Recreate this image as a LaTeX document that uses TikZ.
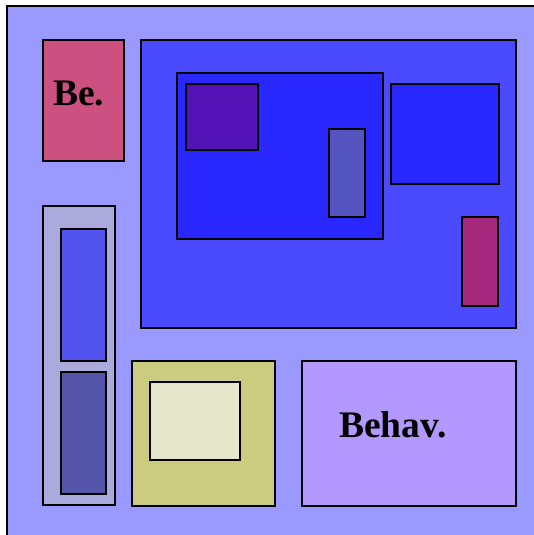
\documentclass[tikz,border=0pt]{standalone}
\usepackage{fontspec}
\setmainfont{Liberation Serif}
\usepackage{tikz}
\usetikzlibrary{positioning}
\definecolor{ground}{HTML}{9999FF}
\definecolor{rosebox}{HTML}{CC5080}
\definecolor{mainblue}{HTML}{4A4AFF}
\definecolor{deepblue}{HTML}{2828FF}
\definecolor{violet}{HTML}{5212B5}
\definecolor{slate}{HTML}{5454C0}
\definecolor{plum}{HTML}{A4287C}
\definecolor{paleblue}{HTML}{AAAADD}
\definecolor{midblue}{HTML}{5252EE}
\definecolor{dullblue}{HTML}{5555AA}
\definecolor{olive}{HTML}{CCCC80}
\definecolor{cream}{HTML}{E6E6CC}
\definecolor{lilac}{HTML}{B399FF}

\begin{document}
\begin{tikzpicture}[
    x=1pt, y=-1pt,
    box/.style={rectangle, draw=black, line width=2pt, inner sep=0pt},
    tag/.style={font=\fontsize{37.5}{40}\selectfont\bfseries, inner sep=0pt,
                anchor=base west}
]
\clip (0,0) rectangle (534,535);

\node[box, fill=ground, minimum width=560, minimum height=560] (frame) at (287,286) {};

% left column
\node[box, fill=rosebox, minimum width=81, minimum height=121] (be) at (83.5,100.5) {};
\node[tag] (betext) at (53,105) {Be.};

\node[box, fill=paleblue, minimum width=72, minimum height=299] (stack) at (79,355.5) {};
\node[box, fill=midblue, minimum width=45, minimum height=132] (stacktop) at (83.5,294.5) {};
\node[box, fill=dullblue, minimum width=45, minimum height=122] (stackbot) at (83.5,433) {};

% big block
\node[box, fill=mainblue, minimum width=375, minimum height=287] (core) at (328.5,184) {};
\node[box, fill=deepblue, minimum width=206, minimum height=166] (inner) at (279.5,155.5) {};
\node[box, fill=violet, minimum width=72, minimum height=66] (corner) at (221.5,117) {};
\node[box, fill=slate, minimum width=36, minimum height=88] (slab) at (346.5,172.5) {};
\node[box, fill=deepblue, minimum width=108, minimum height=100] (side) at (444.5,134) {};
\node[box, fill=plum, minimum width=36, minimum height=89] (pin) at (480,261) {};

% bottom row
\node[box, fill=olive, minimum width=143, minimum height=145] (base) at (203.5,433) {};
\node[box, fill=cream, minimum width=90, minimum height=78] (pad) at (195,421) {};
\node[box, fill=lilac, minimum width=214, minimum height=145] (behav) at (409,433) {};
\node[tag] (behavtext) at (339,437) {Behav.};

\end{tikzpicture}
\end{document}
